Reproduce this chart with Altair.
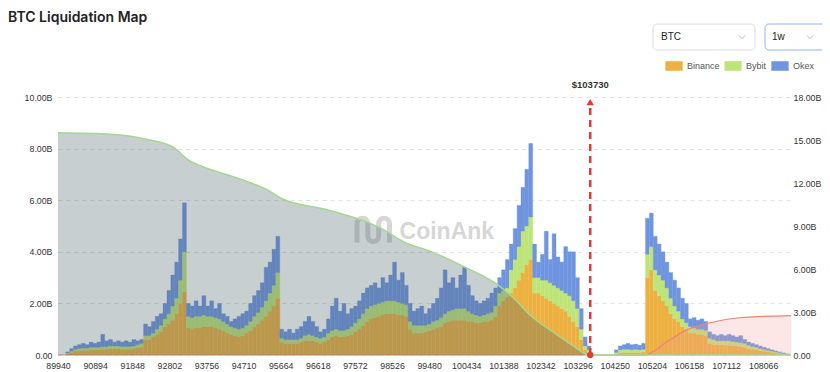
import altair as alt
import pandas as pd

# ---------------- data ----------------
PRICE_START = 89940
BIN = 100
exchanges = ["Binance", "Bybit", "Okex"]
colors = ["#EDB141", "#BEE47A", "#6F95E0"]

# stacked levels per 100$ price bin (in billions): top of Binance, top of Bybit, top of Okex
binance_top = [
    0, 0, 0.05, 0.1, 0.15, 0.15, 0.18, 0.18, 0.2, 0.2,
    0.2, 0.22, 0.22, 0.25, 0.25, 0.25, 0.22, 0.22, 0.22, 0.25,
    0.28, 0.3, 0.6, 0.6, 0.7, 0.8, 0.9, 1.1, 1.2, 1.35,
    1.6, 2.0, 2.45, 1.05, 1.0, 1.05, 1.05, 1.1, 1.1, 1.1,
    1.05, 1.0, 0.95, 0.85, 0.8, 0.75, 0.7, 0.75, 0.85, 0.95,
    1.1, 1.2, 1.35, 1.5, 1.7, 1.9, 2.2, 0.5, 0.45, 0.45,
    0.45, 0.45, 0.5, 0.55, 0.55, 0.55, 0.5, 0.45, 0.5, 0.6,
    0.7, 0.75, 0.7, 0.7, 0.75, 0.8, 0.9, 1.0, 1.15, 1.3,
    1.4, 1.45, 1.5, 1.55, 1.6, 1.6, 1.6, 1.55, 1.55, 1.5,
    1.0, 0.85, 0.85, 0.85, 0.9, 0.95, 1.0, 1.05, 1.1, 1.25,
    1.3, 1.35, 1.35, 1.35, 1.35, 1.3, 1.3, 1.25, 1.25, 1.3,
    1.3, 1.35, 1.5, 1.9, 2.1, 2.25, 2.4, 2.6, 2.9, 3.2,
    3.5, 3.7, 2.4, 2.4, 2.3, 2.2, 2.1, 2.0, 1.9, 1.8,
    1.7, 1.5, 1.3, 1.1, 0.6, 0.2, 0.1, 0, 0, 0,
    0, 0, 0, 0.05, 0.1, 0.1, 0.1, 0.1, 0.1, 0.1,
    0.12, 3.0, 3.3, 2.5, 2.3, 2.1, 1.9, 1.6, 1.4, 1.3,
    1.1, 1.0, 0.85, 0.85, 0.8, 0.8, 0.75, 0.45, 0.4, 0.4,
    0.4, 0.38, 0.38, 0.37, 0.35, 0.33, 0.3, 0.25, 0.22, 0.2,
    0.17, 0.15, 0.12, 0.1, 0.08, 0.06, 0.04, 0.02,
]
bybit_top = [
    0, 0, 0.08, 0.15, 0.22, 0.25, 0.27, 0.27, 0.3, 0.3,
    0.3, 0.32, 0.32, 0.35, 0.35, 0.35, 0.33, 0.33, 0.33, 0.35,
    0.4, 0.45, 0.75, 0.75, 0.85, 1.0, 1.15, 1.4, 1.6, 1.9,
    2.2, 2.9, 4.0, 1.5, 1.45, 1.5, 1.5, 1.55, 1.5, 1.5,
    1.45, 1.4, 1.3, 1.2, 1.1, 1.05, 1.0, 1.05, 1.15, 1.3,
    1.5, 1.65, 1.85, 2.1, 2.4, 2.7, 3.2, 0.65, 0.6, 0.6,
    0.6, 0.6, 0.65, 0.75, 0.8, 0.75, 0.7, 0.65, 0.7, 0.85,
    0.95, 1.0, 0.95, 0.95, 1.0, 1.1, 1.25, 1.4, 1.6, 1.8,
    1.9, 1.95, 2.0, 2.05, 2.1, 2.1, 2.1, 2.05, 2.0, 1.95,
    1.3, 1.15, 1.15, 1.15, 1.15, 1.2, 1.3, 1.35, 1.45, 1.6,
    1.7, 1.75, 1.8, 1.8, 1.8, 1.7, 1.6, 1.55, 1.5, 1.55,
    1.6, 1.65, 1.9, 2.4, 2.5, 2.6, 3.3, 3.7, 4.2, 4.8,
    5.0, 5.35, 3.0, 3.0, 2.9, 2.9, 2.8, 2.7, 2.6, 2.5,
    2.4, 2.3, 2.1, 1.8, 1.0, 0.35, 0.2, 0, 0, 0,
    0, 0, 0, 0.1, 0.2, 0.22, 0.22, 0.2, 0.22, 0.2,
    0.22, 3.9, 4.2, 3.3, 3.1, 2.9, 2.6, 2.2, 1.9, 1.7,
    1.4, 1.25, 1.1, 1.05, 1.0, 1.0, 0.95, 0.65, 0.6, 0.55,
    0.55, 0.55, 0.55, 0.52, 0.5, 0.48, 0.45, 0.38, 0.33, 0.3,
    0.25, 0.22, 0.18, 0.15, 0.12, 0.09, 0.06, 0.03,
]
okex_top = [
    0, 0, 0.12, 0.25, 0.35, 0.4, 0.45, 0.4, 0.5, 0.45,
    0.5, 0.8, 0.55, 0.6, 0.5, 0.55, 0.5, 0.55, 0.5, 0.6,
    0.55, 0.6, 1.2, 1.1, 1.3, 1.5, 1.6, 2.0, 2.5, 3.1,
    3.6, 4.5, 5.9, 2.0, 1.9, 2.1, 1.9, 2.3, 1.9, 2.1,
    1.8, 2.0, 1.6, 1.5, 1.3, 1.4, 1.5, 1.6, 1.7, 2.0,
    2.3, 2.5, 2.8, 3.4, 3.6, 4.1, 4.6, 1.0, 0.9, 1.0,
    0.85, 1.0, 1.1, 1.3, 1.5, 1.3, 1.1, 0.9, 1.0, 1.4,
    1.9, 2.2, 1.7, 2.0, 1.6, 1.8, 1.9, 2.1, 2.4, 2.6,
    2.7, 2.8, 2.6, 3.0, 2.8, 3.1, 3.6, 2.9, 3.2, 2.7,
    2.0, 1.7, 1.8, 1.9, 1.6, 1.8, 2.0, 2.2, 2.6, 3.3,
    2.8, 3.0, 2.6, 3.1, 3.4, 2.7, 2.3, 2.1, 2.0, 2.1,
    2.2, 2.4, 2.6, 3.0, 3.3, 3.7, 4.3, 4.9, 5.8, 6.5,
    7.2, 8.2, 4.3, 3.6, 3.9, 4.8, 3.7, 4.7, 3.8, 3.6,
    4.2, 4.0, 4.0, 3.0, 1.8, 0.7, 0.35, 0, 0, 0,
    0, 0, 0, 0.2, 0.35, 0.4, 0.45, 0.4, 0.42, 0.38,
    0.45, 5.3, 5.5, 4.6, 4.3, 4.0, 3.6, 3.2, 2.9, 2.6,
    2.2, 2.0, 1.4, 1.45, 1.35, 1.4, 1.3, 0.9, 0.8, 0.75,
    0.8, 0.75, 0.8, 0.75, 0.7, 0.75, 0.6, 0.5, 0.45, 0.4,
    0.35, 0.3, 0.25, 0.2, 0.16, 0.12, 0.08, 0.04,
]

# cumulative liquidation curves (right axis, billions)
short_price = [89940, 91300, 92300, 92900, 93300, 93600, 94600, 95400, 95700, 96900,
               98200, 98900, 99450, 100420, 101190, 101620, 102130, 102720, 103230, 103590, 108780]
short_cum = [15.5, 15.4, 15.0, 14.5, 13.6, 13.2, 12.3, 11.4, 10.9, 10.1,
             8.9, 7.8, 7.3, 6.1, 5.0, 4.05, 2.65, 1.5, 0.55, 0.0, 0.0]
long_price = [89940, 105020, 105583, 106094, 106605, 107449, 108780]
long_cum = [0.0, 0.0, 0.9, 1.75, 2.2, 2.6, 2.75]

x_ticks = [89940, 90894, 91848, 92802, 93756, 94710, 95664, 96618, 97572, 98526,
           99480, 100434, 101388, 102342, 103296, 104250, 105204, 106158, 107112, 108066]
left_ticks = [0, 2, 4, 6, 8, 10]
right_ticks = [0, 3, 6, 9, 12, 15, 18]
x_domain = [89940, 108780]

current_label = "$103730"
current_line_price = 103620

# ---------------- tables ----------------
rows = []
for k in range(len(binance_top)):
    lo = PRICE_START + k * BIN
    levels = [0, binance_top[k], bybit_top[k], okex_top[k]]
    for j, ex in enumerate(exchanges):
        if levels[j + 1] > levels[j]:
            rows.append(dict(price=lo, price2=lo + BIN, exchange=ex,
                             y0=levels[j], y1=levels[j + 1]))
bar_df = pd.DataFrame(rows)
short_df = pd.DataFrame({"price": short_price, "cum": short_cum})
long_df = pd.DataFrame({"price": long_price, "cum": long_cum})
marker_df = pd.DataFrame({"price": [current_line_price], "label": [current_label],
                          "top": [9.72], "arrow": [9.8], "base": [0.0], "text_y": [10.47]})
wm_df = pd.DataFrame({"price": [99934], "y": [4.77], "t": ["CoinAnk"]})
logo_df = pd.DataFrame({"price": [98043], "y": [4.85]})

FONT = "Liberation Sans"
AXSIZE = 8.8
label_expr = "datum.value == 0 ? '0.00' : format(datum.value, '.2f') + 'B'"

x_scale = alt.Scale(domain=x_domain, nice=False, zero=False)
x_axis = alt.Axis(values=x_ticks, format="d", title=None, grid=False, ticks=False,
                  domain=False, labelFont=FONT, labelFontSize=AXSIZE, labelColor="#333",
                  labelPadding=6, labelFlush=False, labelOverlap=False)
left_scale = alt.Scale(domain=[0, 10], nice=False)

bars = alt.Chart(bar_df).mark_bar(strokeWidth=0.35).encode(
    x=alt.X("price:Q", scale=x_scale, axis=x_axis),
    x2="price2:Q",
    y=alt.Y("y0:Q", scale=left_scale,
            axis=alt.Axis(orient="left", values=left_ticks, labelExpr=label_expr, title=None,
                          grid=True, gridDash=[4, 4], gridColor="#e3e3e3", domain=False,
                          ticks=False, labelFont=FONT, labelFontSize=AXSIZE, labelColor="#333",
                          labelPadding=6)),
    y2="y1:Q",
    color=alt.Color("exchange:N", scale=alt.Scale(domain=exchanges, range=colors),
                    legend=alt.Legend(orient="none", legendX=607, legendY=-40,
                                      direction="horizontal", title=None,
                                      symbolType="M-1,-0.55L1,-0.55L1,0.55L-1,0.55Z",
                                      symbolSize=300, symbolStrokeWidth=0,
                                      labelFont=FONT, labelFontSize=9, labelColor="#555",
                                      columnPadding=4, labelOffset=4)),
    stroke=alt.Stroke("exchange:N", scale=alt.Scale(domain=exchanges, range=colors), legend=None),
)

right_scale = alt.Scale(domain=[0, 18], nice=False)
right_axis = alt.Axis(orient="right", values=right_ticks, labelExpr=label_expr, title=None,
                      grid=False, domain=False, ticks=False, labelFont=FONT,
                      labelFontSize=AXSIZE, labelColor="#333", labelPadding=2)

short_area = alt.Chart(short_df).mark_area(
    interpolate="monotone", color="#485F66", opacity=0.3,
    line={"color": "#a4d892", "strokeWidth": 1.5, "opacity": 1},
).encode(x=alt.X("price:Q", scale=x_scale, axis=x_axis),
         y=alt.Y("cum:Q", scale=right_scale, axis=right_axis))
long_area = alt.Chart(long_df).mark_area(
    interpolate="monotone", color="#f59a9a", opacity=0.25,
    line={"color": "#ee8479", "strokeWidth": 1.2, "opacity": 1},
).encode(x=alt.X("price:Q", scale=x_scale, axis=x_axis),
         y=alt.Y("cum:Q", scale=right_scale, axis=right_axis))
areas = alt.layer(long_area, short_area)

hidden_left = alt.Scale(domain=[0, 10], nice=False)

watermark = alt.Chart(wm_df).mark_text(
    font=FONT, fontSize=23, fontWeight="bold", color="#7a7a7a", opacity=0.3
).encode(x=alt.X("price:Q", scale=x_scale, axis=x_axis),
         y=alt.Y("y:Q", scale=hidden_left, axis=None), text="t:N")
logo = alt.Chart(logo_df).mark_point(
    shape="M-0.9,0.7L-0.9,-0.35A0.3,0.3 0 0 1 -0.3,-0.35L-0.3,0.35A0.3,0.3 0 0 0 0.3,0.35L0.3,-0.35A0.3,0.3 0 0 1 0.9,-0.35L0.9,0.7",
    size=1300, filled=False, color="#7a7a7a", opacity=0.3, strokeWidth=5,
).encode(x=alt.X("price:Q", scale=x_scale, axis=x_axis),
         y=alt.Y("y:Q", scale=hidden_left, axis=None))

base_m = alt.Chart(marker_df)
rule = base_m.mark_rule(color="#e53935", strokeWidth=2.5, strokeDash=[7, 5]).encode(
    x=alt.X("price:Q", scale=x_scale, axis=x_axis),
    y=alt.Y("base:Q", scale=hidden_left, axis=None), y2="top:Q")
arrow = base_m.mark_point(shape="triangle-up", filled=True, size=55, color="#e53935", opacity=1).encode(
    x=alt.X("price:Q", scale=x_scale, axis=x_axis),
    y=alt.Y("arrow:Q", scale=hidden_left, axis=None))
dot = base_m.mark_circle(size=40, color="#e53935", opacity=1).encode(
    x=alt.X("price:Q", scale=x_scale, axis=x_axis),
    y=alt.Y("base:Q", scale=hidden_left, axis=None))
label = base_m.mark_text(font=FONT, fontSize=9.5, fontWeight="bold", color="#333").encode(
    x=alt.X("price:Q", scale=x_scale, axis=x_axis),
    y=alt.Y("text_y:Q", scale=hidden_left, axis=None), text="label:N")

# page decorations: title and selector boxes
title = alt.Chart(pd.DataFrame({"t": ["BTC Liquidation Map"]})).mark_text(
    font="Inter", fontSize=14, fontWeight=600, color="#222", align="left", baseline="middle"
).encode(x=alt.value(-50), y=alt.value(-79), text="t:N")
box1 = alt.Chart(pd.DataFrame({"t": ["BTC"]})).mark_rect(
    fill="white", stroke="#dcdcdc", strokeWidth=1, cornerRadius=4
).encode(x=alt.value(595), x2=alt.value(697), y=alt.value(-73), y2=alt.value(-47))
box2 = alt.Chart(pd.DataFrame({"t": ["1w"]})).mark_rect(
    fill="white", stroke="#8fb4f0", strokeWidth=1, cornerRadius=4
).encode(x=alt.value(707), x2=alt.value(770), y=alt.value(-73), y2=alt.value(-47))
box_txt1 = alt.Chart(pd.DataFrame({"t": ["BTC"]})).mark_text(
    font=FONT, fontSize=10, color="#222", align="left", baseline="middle"
).encode(x=alt.value(603), y=alt.value(-60), text="t:N")
box_txt2 = alt.Chart(pd.DataFrame({"t": ["1w"]})).mark_text(
    font=FONT, fontSize=10, color="#222", align="left", baseline="middle"
).encode(x=alt.value(714), y=alt.value(-60), text="t:N")
chev = alt.Chart(pd.DataFrame({"t": ["a", "b"], "px": [684, 752]})).mark_point(
    shape="M-1,-0.5L0,0.5L1,-0.5", size=40, filled=False, color="#b5b5b5", strokeWidth=1, opacity=1
).encode(x=alt.X("px:Q", scale=None, axis=None), y=alt.value(-60))

chart = alt.layer(
    bars, watermark, logo, areas, rule, arrow, dot, label,
    title, box1, box2, box_txt1, box_txt2, chev,
).resolve_scale(y="independent").properties(
    width=733, height=258,
    autosize=alt.AutoSizeParams(type="none"),
    padding={"left": 50, "top": 89, "right": 31, "bottom": 17},
).configure_view(stroke=None)

chart.save("out.html", embed_options={"renderer": "svg", "actions": False})
